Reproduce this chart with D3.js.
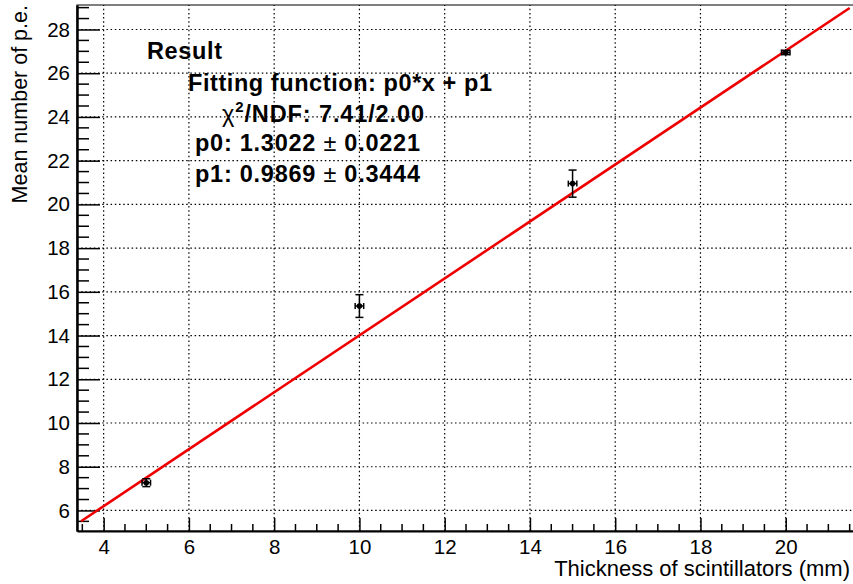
<!DOCTYPE html>
<html>
<head>
<meta charset="utf-8">
<script src="https://cdn.jsdelivr.net/npm/d3@7"></script>
<style>
  body { margin: 0; background: #fff; }
  svg { display: block; font-family: "Liberation Sans", Helvetica, Arial, sans-serif; }
</style>
</head>
<body>
<div id="chart"></div>
<script>
// measured points (thickness in mm vs mean p.e.)
const thickness = [5, 10, 15, 20];
const meanPE = [7.27, 15.35, 20.95, 26.95];
const xErr = [0.1, 0.1, 0.1, 0.1];
const yErr = [0.18, 0.52, 0.62, 0.1];

// fit result y = p0*x + p1
const p0 = 1.3022;
const p1 = 0.9869;
const fitRange = [3.47, 21.5];

const xTicks = [4, 6, 8, 10, 12, 14, 16, 18, 20];
const yTicks = [6, 8, 10, 12, 14, 16, 18, 20, 22, 24, 26, 28];

const statLines = [
  "Result",
  "Fitting function: p0*x + p1",
  "χ2/NDF: 7.41/2.00",
  "p0: 1.3022 ± 0.0221",
  "p1: 0.9869 ± 0.3444"
];

const width = 853;
const height = 584;
const margin = { left: 77, right: -2, top: 5, bottom: 53 };

const svg = d3.select("#chart")
  .append("svg")
  .attr("width", width)
  .attr("height", height);

const x = d3.scaleLinear()
  .domain([3.375, 21.625])
  .range([margin.left, width - margin.right]);

const y = d3.scaleLinear()
  .domain([5.06, 29.12])
  .range([height - margin.bottom, margin.top]);

const x0 = x.range()[0], x1 = x.range()[1];
const y0 = y.range()[0], y1 = y.range()[1];

// dotted grid
const grid = svg.append("g")
  .attr("stroke", "#000")
  .attr("stroke-width", 1.2)
  .attr("stroke-dasharray", "1.5,2.7");

grid.selectAll("line.gx")
  .data(xTicks)
  .enter().append("line")
  .attr("x1", (d) => x(d)).attr("x2", (d) => x(d))
  .attr("y1", y0).attr("y2", y1);

grid.selectAll("line.gy")
  .data(yTicks)
  .enter().append("line")
  .attr("x1", x0).attr("x2", x1)
  .attr("y1", (d) => y(d)).attr("y2", (d) => y(d));

// frame
svg.append("rect")
  .attr("x", x0).attr("y", y1)
  .attr("width", x1 - x0).attr("height", y0 - y1)
  .attr("fill", "none")
  .attr("stroke", "#000")
  .attr("stroke-width", 1);

// x axis with inside ticks
const xMinor = d3.range(3.5, 21.6, 0.5).filter((v) => !xTicks.includes(v));
const xAxis = svg.append("g")
  .attr("transform", `translate(0,${y0})`)
  .call(d3.axisBottom(x).tickValues(xTicks).tickSize(-13).tickPadding(8).tickSizeOuter(0));
xAxis.select(".domain").attr("stroke-width", 2);
xAxis.selectAll(".tick line").attr("stroke-width", 1.5);
xAxis.selectAll(".tick text")
  .attr("font-size", 20.5)
  .attr("fill", "#000");
xAxis.selectAll("line.minor")
  .data(xMinor)
  .enter().append("line")
  .attr("class", "minor")
  .attr("x1", (d) => x(d)).attr("x2", (d) => x(d))
  .attr("y1", 0).attr("y2", -7)
  .attr("stroke", "#000")
  .attr("stroke-width", 1.5);

// y axis with inside ticks
const yMinor = d3.range(5.5, 29.1, 0.5).filter((v) => !yTicks.includes(v));
const yAxis = svg.append("g")
  .attr("transform", `translate(${x0},0)`)
  .call(d3.axisLeft(y).tickValues(yTicks).tickSize(-23).tickPadding(7).tickSizeOuter(0));
yAxis.select(".domain").attr("stroke-width", 2.5);
yAxis.selectAll(".tick line").attr("stroke-width", 1.5);
yAxis.selectAll(".tick text")
  .attr("font-size", 20.5)
  .attr("fill", "#000");
yAxis.selectAll("line.minor")
  .data(yMinor)
  .enter().append("line")
  .attr("class", "minor")
  .attr("x1", 0).attr("x2", 12)
  .attr("y1", (d) => y(d)).attr("y2", (d) => y(d))
  .attr("stroke", "#000")
  .attr("stroke-width", 1.5);

// axis titles
svg.append("text")
  .attr("x", 850)
  .attr("y", 576)
  .attr("text-anchor", "end")
  .attr("font-size", 22)
  .text("Thickness of scintillators (mm)");

svg.append("text")
  .attr("transform", "translate(27,5) rotate(-90)")
  .attr("text-anchor", "end")
  .attr("font-size", 21.5)
  .text("Mean number of p.e.");

// fit line
svg.append("line")
  .attr("x1", x(fitRange[0])).attr("y1", y(p0 * fitRange[0] + p1))
  .attr("x2", x(fitRange[1])).attr("y2", y(p0 * fitRange[1] + p1))
  .attr("stroke", "#ee0000")
  .attr("stroke-width", 2.6);

// data points with error bars
const pts = thickness.map((t, i) => ({ x: t, y: meanPE[i], ex: xErr[i], ey: yErr[i] }));
const pg = svg.append("g").attr("stroke", "#000").attr("stroke-width", 1.5);
pts.forEach((p) => {
  const cx = x(p.x), cy = y(p.y);
  const xl = x(p.x - p.ex), xr = x(p.x + p.ex);
  const yt = y(p.y + p.ey), yb = y(p.y - p.ey);
  pg.append("line").attr("x1", xl).attr("x2", xr).attr("y1", cy).attr("y2", cy);
  pg.append("line").attr("x1", cx).attr("x2", cx).attr("y1", yt).attr("y2", yb);
  pg.append("line").attr("x1", xl).attr("x2", xl).attr("y1", cy - 3).attr("y2", cy + 3);
  pg.append("line").attr("x1", xr).attr("x2", xr).attr("y1", cy - 3).attr("y2", cy + 3);
  pg.append("line").attr("x1", cx - 4).attr("x2", cx + 4).attr("y1", yt).attr("y2", yt);
  pg.append("line").attr("x1", cx - 4).attr("x2", cx + 4).attr("y1", yb).attr("y2", yb);
});
svg.selectAll("circle.pt")
  .data(pts)
  .enter().append("circle")
  .attr("class", "pt")
  .attr("cx", (d) => x(d.x))
  .attr("cy", (d) => y(d.y))
  .attr("r", 2.8)
  .attr("fill", "#000");

// stats text (position and width per line)
const statPos = [
  { x: 147, y: 59, w: 75 },
  { x: 188, y: 91, w: 304 },
  { x: 222, y: 122, w: 202 },
  { x: 195, y: 151, w: 225 },
  { x: 195, y: 182, w: 225 }
];
const stats = svg.append("g")
  .attr("font-size", 23.5)
  .attr("font-weight", "bold")
  .attr("fill", "#000");
statLines.forEach((s, i) => {
  const t = stats.append("text")
    .attr("x", statPos[i].x).attr("y", statPos[i].y)
    .attr("textLength", statPos[i].w)
    .attr("lengthAdjust", "spacing");
  if (s.startsWith("χ2")) {
    t.append("tspan").attr("font-weight", "normal").text("χ");
    t.append("tspan").attr("font-size", 15).attr("dy", -10).text("2");
    t.append("tspan").attr("dy", 10).text(s.slice(2));
  } else if (s.includes("±")) {
    const parts = s.split("±");
    t.append("tspan").text(parts[0]);
    t.append("tspan").attr("font-weight", "normal").text("± ");
    t.append("tspan").text(parts[1].trim());
  } else {
    t.text(s);
  }
});
</script>
</body>
</html>
